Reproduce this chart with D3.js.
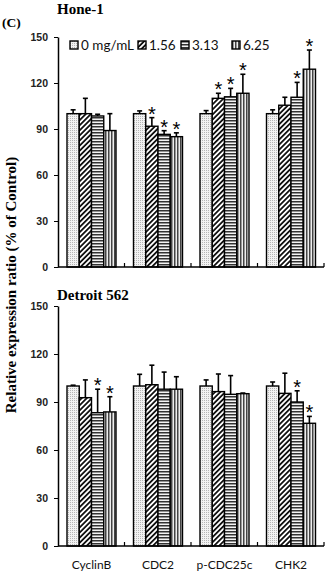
<!DOCTYPE html>
<html lang="en">
<head>
  <meta charset="UTF-8">
  <title>Relative expression</title>
  <style>
    body, html {
      margin: 0;
      padding: 0;
      background-color: white;
    }
  </style>
</head>
<body>
  <svg id="svg" width="329" height="574"></svg>
  <script src="https://d3js.org/d3.v7.min.js"></script>
  <script>
    const categories = ['CyclinB', 'CDC2', 'p-CDC25c', 'CHK2']
    const doses = ['0 mg/mL', '1.56', '3.13', '6.25']
    const yTicks = [0, 30, 60, 90, 120, 150]

    // Hone-1 : mean, upper error (per category, per dose)
    const honeMeans = [
      [100, 100, 98.5, 89],
      [100, 91.8, 86.5, 85],
      [100, 110, 111, 113.3],
      [100, 105.5, 110.7, 129]
    ]
    const honeErr = [
      [102.5, 110, 99.6, 100],
      [101.8, 97.4, 88.9, 87.5],
      [102, 113.3, 116.5, 125.7],
      [102.5, 110.7, 120.4, 141.5]
    ]
    const honeStars = [
      [false, false, false, false],
      [false, true, true, true],
      [false, true, true, true],
      [false, false, true, true]
    ]

    // Detroit 562
    const detMeans = [
      [100, 92.7, 83.3, 83.8],
      [100, 100.8, 98, 98],
      [100, 96.5, 94.8, 95.2],
      [100, 95.4, 90, 76.7]
    ]
    const detErr = [
      [100.5, 103.8, 98, 93.3],
      [107.3, 113, 108.7, 105.8],
      [103.8, 107.5, 106.5, 95.6],
      [102.5, 108, 97, 81]
    ]
    const detStars = [
      [false, false, true, true],
      [false, false, false, false],
      [false, false, false, false],
      [false, false, true, true]
    ]

    const svg = d3.select('#svg')
    const defs = svg.append('defs')

    // fill patterns
    const dots = defs.append('pattern').attr('id', 'p0')
      .attr('patternUnits', 'userSpaceOnUse').attr('width', 2).attr('height', 2)
    dots.append('rect').attr('width', 2).attr('height', 2).attr('fill', '#f2f2f2')
    dots.append('rect').attr('width', 1).attr('height', 1).attr('fill', '#b5b5b5')

    const diag = defs.append('pattern').attr('id', 'p1')
      .attr('patternUnits', 'userSpaceOnUse').attr('width', 3.6).attr('height', 3.6)
      .attr('patternTransform', 'rotate(45)')
    diag.append('rect').attr('width', 3.6).attr('height', 3.6).attr('fill', 'white')
    diag.append('rect').attr('width', 1.8).attr('height', 3.6).attr('fill', '#111')

    const horiz = defs.append('pattern').attr('id', 'p2')
      .attr('patternUnits', 'userSpaceOnUse').attr('width', 3).attr('height', 3)
    horiz.append('rect').attr('width', 3).attr('height', 3).attr('fill', '#f4f4f4')
    horiz.append('rect').attr('width', 3).attr('height', 1.5).attr('fill', '#333')

    const vert = defs.append('pattern').attr('id', 'p3')
      .attr('patternUnits', 'userSpaceOnUse').attr('width', 3).attr('height', 3)
    vert.append('rect').attr('width', 3).attr('height', 3).attr('fill', '#eee')
    vert.append('rect').attr('width', 1.5).attr('height', 3).attr('fill', '#444')

    const fillScale = d3.scaleOrdinal().domain(doses).range(['url(#p0)', 'url(#p1)', 'url(#p2)', 'url(#p3)'])

    const x0 = d3.scaleBand().domain(categories).range([58, 324])
    const x1 = d3.scaleBand().domain(doses).range([9, 58])

    function drawPanel(means, errs, stars, top, bottom, title, titleY, showLegend, showCats) {
      const y = d3.scaleLinear().domain([0, 150]).range([bottom, top])
      const g = svg.append('g')

      g.append('text')
        .text(title)
        .attr('x', 57)
        .attr('y', titleY)
        .style('font-family', 'Liberation Serif')
        .style('font-weight', 'bold')
        .style('font-size', '15px')

      const data = []
      categories.forEach((c, i) => {
        doses.forEach((d, j) => {
          data.push({ cat: c, dose: d, v: means[i][j], e: errs[i][j], star: stars[i][j] })
        })
      })

      g.selectAll('rect.bar')
        .data(data)
        .enter()
        .append('rect')
        .attr('class', 'bar')
        .attr('x', d => x0(d.cat) + x1(d.dose))
        .attr('y', d => y(d.v))
        .attr('width', x1.bandwidth())
        .attr('height', d => y(0) - y(d.v))
        .attr('fill', d => fillScale(d.dose))
        .attr('stroke', '#000')
        .attr('stroke-width', 1.4)

      // error bars (upper only)
      const eb = g.selectAll('g.err').data(data).enter().append('g')
      eb.append('line')
        .attr('x1', d => x0(d.cat) + x1(d.dose) + x1.bandwidth() / 2)
        .attr('x2', d => x0(d.cat) + x1(d.dose) + x1.bandwidth() / 2)
        .attr('y1', d => y(d.v))
        .attr('y2', d => y(d.e))
        .attr('stroke', '#000')
        .attr('stroke-width', 1.6)
      eb.append('line')
        .attr('x1', d => x0(d.cat) + x1(d.dose) + x1.bandwidth() / 2 - 2.5)
        .attr('x2', d => x0(d.cat) + x1(d.dose) + x1.bandwidth() / 2 + 2.5)
        .attr('y1', d => y(d.e))
        .attr('y2', d => y(d.e))
        .attr('stroke', '#000')
        .attr('stroke-width', 1.6)

      g.selectAll('text.star')
        .data(data.filter(d => d.star))
        .enter()
        .append('text')
        .attr('class', 'star')
        .text('*')
        .attr('x', d => x0(d.cat) + x1(d.dose) + x1.bandwidth() / 2)
        .attr('y', d => y(d.e) + 3)
        .attr('text-anchor', 'middle')
        .style('font-family', 'Liberation Sans')
        .style('font-size', '20px')

      // y axis
      const leftAxis = d3.axisLeft(y).tickValues(yTicks).tickSize(4).tickSizeOuter(0)
      const ya = g.append('g')
        .attr('transform', 'translate(58, 0)')
        .call(leftAxis)
      ya.select('.domain').attr('stroke-width', 1.5)
      ya.selectAll('.tick text')
        .attr('x', -10)
        .style('font-family', 'Liberation Sans')
        .style('font-weight', 'bold')
        .style('font-size', '10.5px')
        .attr('fill', '#222')

      // x axis line with ticks between groups
      const xa = g.append('g')
      xa.append('line')
        .attr('x1', 58).attr('x2', 324)
        .attr('y1', y(0)).attr('y2', y(0))
        .attr('stroke', '#000').attr('stroke-width', 1.5)
      xa.selectAll('line.t')
        .data(categories)
        .enter()
        .append('line')
        .attr('x1', d => x0(d) + x0.bandwidth())
        .attr('x2', d => x0(d) + x0.bandwidth())
        .attr('y1', y(0))
        .attr('y2', y(0) - 4)
        .attr('stroke', '#000').attr('stroke-width', 1.2)

      if (showCats) {
        g.selectAll('text.cat')
          .data(categories)
          .enter()
          .append('text')
          .text(d => d)
          .attr('x', d => x0(d) + 9 + 24.5)
          .attr('y', bottom + 23)
          .attr('text-anchor', 'middle')
          .style('font-family', 'Lato')
          .style('font-size', '12px')
          .attr('fill', '#111')
      }

      if (showLegend) {
        const legX = [70, 138, 181, 232]
        const lg = g.selectAll('g.leg')
          .data(doses)
          .enter()
          .append('g')
          .attr('transform', (d, i) => `translate(${legX[i]}, ${top + 4})`)
        lg.append('rect')
          .attr('width', 8).attr('height', 8)
          .attr('fill', d => fillScale(d))
          .attr('stroke', '#000').attr('stroke-width', 1.4)
        lg.append('text')
          .text(d => d)
          .attr('x', 11)
          .attr('y', 9)
          .style('font-family', 'Lato')
          .style('font-size', '13.5px')
          .attr('fill', '#111')
      }
    }

    drawPanel(honeMeans, honeErr, honeStars, 37, 267, 'Hone-1', 14, true, false)
    drawPanel(detMeans, detErr, detStars, 306, 546, 'Detroit 562', 300, false, true)

    svg.append('text')
      .text('(C)')
      .attr('x', 2)
      .attr('y', 27)
      .style('font-family', 'Liberation Serif')
      .style('font-weight', 'bold')
      .style('font-size', '13.5px')

    svg.append('text')
      .text('Relative expression ratio (% of Control)')
      .attr('transform', 'translate(15.5, 285) rotate(-90)')
      .attr('text-anchor', 'middle')
      .style('font-family', 'Liberation Serif')
      .style('font-weight', 'bold')
      .style('font-size', '15px')
  </script>
</body>
</html>
